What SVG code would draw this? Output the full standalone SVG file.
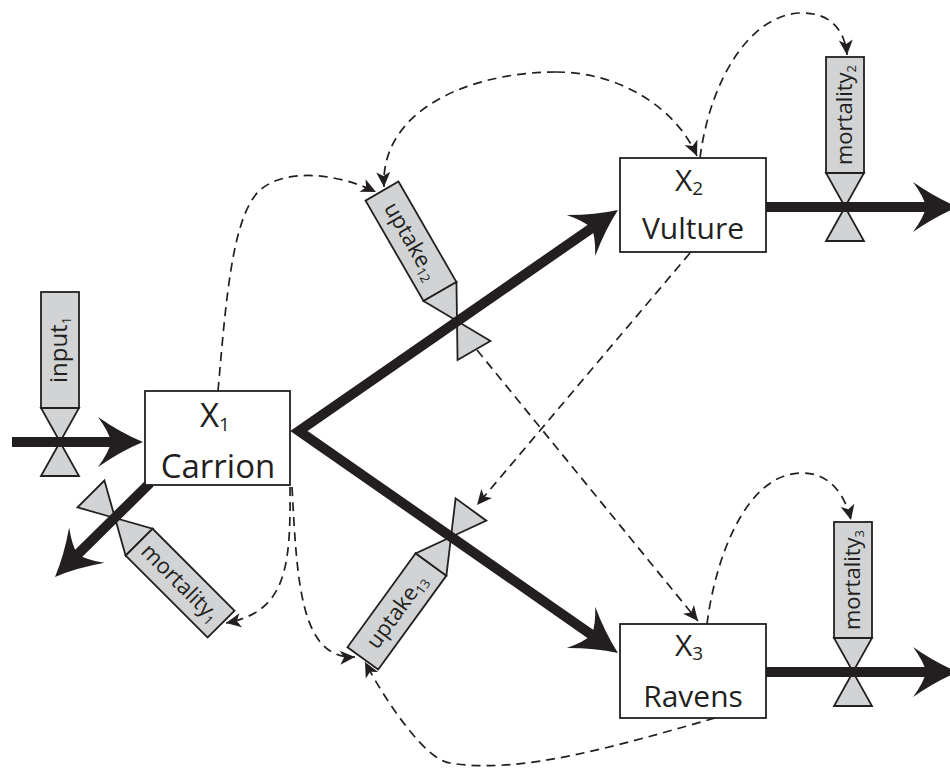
<svg xmlns="http://www.w3.org/2000/svg" width="950" height="770" viewBox="0 0 950 770">
<defs>
<style>
.vr,.vt{fill:#d1d3d4;stroke:#231f20;stroke-width:1.8;stroke-linejoin:miter}
.vl{font-family:"Open Sans","Liberation Sans",sans-serif;font-size:22px;fill:#231f20;text-anchor:middle}
.vs{font-size:13px}
.flow{fill:none;stroke:#231f20;stroke-width:10;stroke-linecap:butt;stroke-linejoin:miter;stroke-miterlimit:10}
.head{fill:#231f20;stroke:none}
.box{fill:#fff;stroke:#231f20;stroke-width:1.8}
.bt{font-family:"Open Sans","Liberation Sans",sans-serif;font-size:30px;fill:#231f20;text-anchor:middle}
.bt1{font-size:33px}
.bs{font-size:19px}
.dash{fill:none;stroke:#231f20;stroke-width:1.7;stroke-dasharray:9 6;marker-end:url(#ah)}
</style>
<marker id="ah" viewBox="-16 -8 17 16" refX="0" refY="0" markerWidth="17" markerHeight="16" markerUnits="userSpaceOnUse" orient="auto">
<path d="M0,0 L-15,-7 L-11,0 L-15,7 Z" fill="#231f20"/>
</marker>
<path id="bighead" d="M0,0 Q-22,-9 -45,-25 Q-34,-10 -32,0 Q-34,10 -45,25 Q-22,9 0,0 Z"/>
</defs>

<g id="valve-input1" transform="translate(60,442)">
<rect class="vr" x="-19" y="-150" width="38" height="116"/>
<path class="vt" d="M-19,-34 L19,-34 L0,0 Z M0,0 L-19,34 L19,34 Z"/>
<text class="vl" transform="translate(0,-92) rotate(-90)" y="7" style="font-size:24px">input<tspan class="vs" dy="4">1</tspan></text>
</g>

<g id="valve-mortality1" transform="translate(115,518) rotate(135)">
<rect class="vr" x="-19" y="-150" width="38" height="116"/>
<path class="vt" d="M-19,-34 L19,-34 L0,0 Z M0,0 L-19,34 L19,34 Z"/>
<text class="vl" transform="translate(0,-92) rotate(-90)" y="7">mortality<tspan class="vs" dy="4">1</tspan></text>
</g>

<g id="valve-uptake12" transform="translate(457,321) rotate(-30)">
<rect class="vr" x="-19" y="-150" width="38" height="116"/>
<path class="vt" d="M-19,-34 L19,-34 L0,0 Z M0,0 L-19,34 L19,34 Z"/>
<text class="vl" transform="translate(0,-92) rotate(90)" y="7">uptake<tspan class="vs" dy="4">12</tspan></text>
</g>

<g id="valve-uptake13" transform="translate(451,537) rotate(216)">
<rect class="vr" x="-19" y="-150" width="38" height="116"/>
<path class="vt" d="M-19,-34 L19,-34 L0,0 Z M0,0 L-19,34 L19,34 Z"/>
<text class="vl" transform="translate(0,-92) rotate(90)" y="7">uptake<tspan class="vs" dy="4">13</tspan></text>
</g>

<g id="valve-mortality2" transform="translate(845,207)">
<rect class="vr" x="-19" y="-150" width="38" height="116"/>
<path class="vt" d="M-19,-34 L19,-34 L0,0 Z M0,0 L-19,34 L19,34 Z"/>
<text class="vl" transform="translate(0,-92) rotate(-90)" y="7">mortality<tspan class="vs" dy="4">2</tspan></text>
</g>

<g id="valve-mortality3" transform="translate(853,672)">
<rect class="vr" x="-19" y="-150" width="38" height="116"/>
<path class="vt" d="M-19,-34 L19,-34 L0,0 Z M0,0 L-19,34 L19,34 Z"/>
<text class="vl" transform="translate(0,-92) rotate(-90)" y="7">mortality<tspan class="vs" dy="4">3</tspan></text>
</g>

<g id="flows">
<path class="flow" d="M12,442 L112,442"/>
<use href="#bighead" class="head" transform="translate(143,442)"/>
<path class="flow" d="M150,483 L77.6,554.4"/>
<use href="#bighead" class="head" transform="translate(55,577) rotate(135)"/>
<path class="flow" d="M591.7,228.1 L299,431 L591.7,634.8"/>
<use href="#bighead" class="head" transform="translate(618,210) rotate(-34.6)"/>
<use href="#bighead" class="head" transform="translate(618,653) rotate(34.7)"/>
<path class="flow" d="M766,207 L926,207"/>
<use href="#bighead" class="head" transform="translate(958,207)"/>
<path class="flow" d="M766,672 L926,672"/>
<use href="#bighead" class="head" transform="translate(958,672)"/>
</g>

<g id="node-X1">
<rect class="box" x="145" y="391" width="145" height="94"/>
<text class="bt bt1" x="215" y="427">X<tspan class="bs" dy="4">1</tspan></text>
<text class="bt bt1" x="218" y="478">Carrion</text>
</g>

<g id="node-X2">
<rect class="box" x="620" y="158" width="146" height="94"/>
<text class="bt" x="689" y="191">X<tspan class="bs" dy="4">2</tspan></text>
<text class="bt" x="693" y="239">Vulture</text>
</g>

<g id="node-X3">
<rect class="box" x="620" y="624" width="146" height="94"/>
<text class="bt" x="689" y="656">X<tspan class="bs" dy="4">3</tspan></text>
<text class="bt" x="693" y="707">Ravens</text>
</g>

<g id="connectors">
<path class="dash" d="M218,391 C226,300 232,220 258,192 C282,168 335,172 376,192"/>
<path class="dash" d="M556,72 C620,72 676,108 697,156"/>
<path class="dash" d="M556,72 C470,72 380,110 384,187"/>
<path class="dash" d="M700,158 C710,80 750,15 800,13 C830,12 845,30 847,55"/>
<path class="dash" d="M690,253 L477,505"/>
<path class="dash" d="M477,350 L698,621"/>
<path class="dash" d="M707,624 C715,560 745,475 800,473 C830,472 845,495 851,520"/>
<path class="dash" d="M290,487 C291,570 285,612 226,623"/>
<path class="dash" d="M292,487 C297,580 300,660 355,657"/>
<path class="dash" d="M715,718 C620,745 520,775 450,763 C425,760 385,700 365,662"/>
</g>
</svg>
